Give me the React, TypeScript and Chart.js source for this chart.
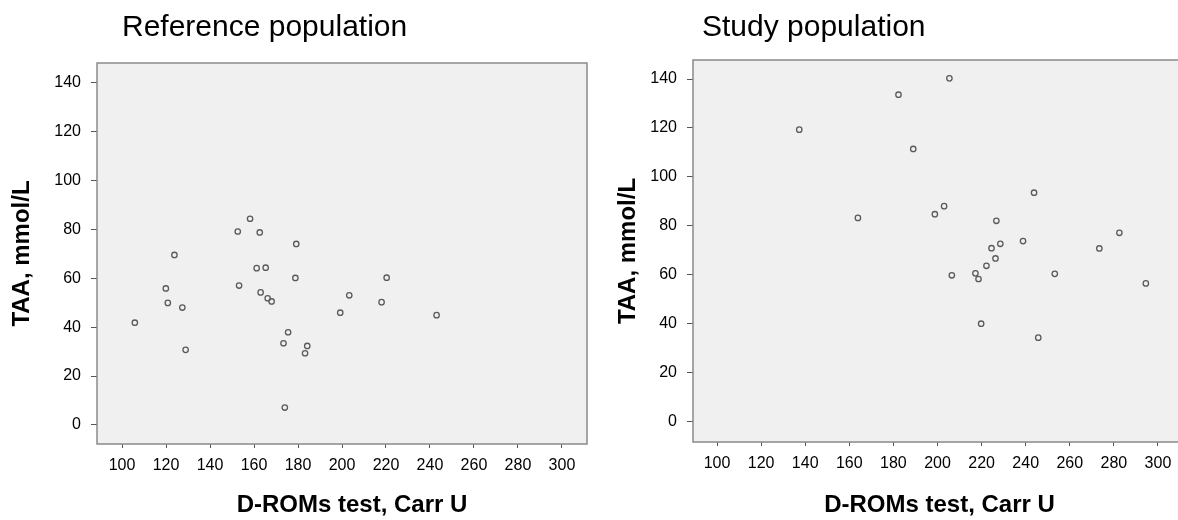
import React, { useEffect, useRef } from "react";
import { Chart, registerables } from "chart.js";

Chart.register(...registerables);

// ---- data ----
const xTickValues = [100, 120, 140, 160, 180, 200, 220, 240, 260, 280, 300];
const yTickValues = [0, 20, 40, 60, 80, 100, 120, 140];

const refDroms = [105.8, 119.9, 120.8, 123.8, 127.4, 128.9, 152.6, 153.2, 158.2, 161.2, 162.6, 163.0, 165.3, 166.2, 168.0, 173.4, 174.0, 175.5, 178.8, 179.2, 183.2, 184.2, 199.2, 203.3, 218.0, 220.3, 243.0];
const refTaa = [41.8, 55.8, 49.9, 69.5, 48.0, 30.7, 79.1, 57.0, 84.3, 64.1, 78.7, 54.2, 64.3, 51.8, 50.5, 33.4, 7.1, 37.9, 60.1, 74.0, 29.3, 32.3, 45.9, 53.0, 50.2, 60.2, 44.9];

const studyDroms = [137.3, 163.9, 182.3, 205.4, 189.0, 198.8, 203.0, 243.8, 226.7, 282.5, 273.4, 238.8, 228.5, 224.5, 226.3, 222.2, 206.5, 217.2, 218.6, 253.2, 294.5, 219.8, 245.7];
const studyTaa = [119.3, 83.2, 133.6, 140.3, 111.4, 84.7, 88.0, 93.5, 82.0, 77.1, 70.7, 73.7, 72.6, 70.8, 66.6, 63.6, 59.7, 60.5, 58.2, 60.3, 56.4, 39.9, 34.2];

const refTitle = "Reference population";
const studyTitle = "Study population";
const xTitle = "D-ROMs test, Carr U";
const yTitle = "TAA, mmol/L";

const FONT = "'Liberation Sans', Arial, sans-serif";

const panelPlugin = {
  id: "panel",
  beforeDraw(chart: any) {
    const { ctx, chartArea } = chart;
    const { left, top, right, bottom } = chartArea;
    ctx.save();
    ctx.fillStyle = "#f0f0f0";
    ctx.fillRect(left, top, right - left, bottom - top);
    ctx.restore();
  },
  beforeDatasetsDraw(chart: any) {
    const { ctx, chartArea } = chart;
    const { left, top, right, bottom } = chartArea;
    ctx.save();
    ctx.strokeStyle = "#8a8a8a";
    ctx.lineWidth = 1.5;
    ctx.strokeRect(left, top, right - left, bottom - top);
    ctx.restore();
  },
  afterDraw(chart: any, _args: any, opts: any) {
    const { ctx, chartArea } = chart;
    ctx.save();
    ctx.fillStyle = "#000";
    ctx.font = `30px ${FONT}`;
    ctx.textBaseline = "alphabetic";
    ctx.textAlign = "left";
    ctx.fillText(opts.text, opts.x, opts.y);
    // x-axis title
    ctx.font = `bold 24px ${FONT}`;
    ctx.textAlign = "center";
    ctx.textBaseline = "middle";
    ctx.fillText(opts.xTitle, (chartArea.left + chartArea.right) / 2 + opts.xTitleShift, 505.6);
    ctx.restore();
  },
};

type PanelCfg = {
  title: string;
  titleX: number;
  xs: number[];
  ys: number[];
  xMin: number;
  xMax: number;
  yMin: number;
  yMax: number;
  yAxisWidth: number;
  xAxisHeight: number;
  padTop: number;
  padRight: number;
  yTitlePad: number;
  xTitleShift: number;
};

function Panel({ cfg, left }: { cfg: PanelCfg; left: number }) {
  const ref = useRef<HTMLCanvasElement | null>(null);
  useEffect(() => {
    if (!ref.current) return;
    const chart = new Chart(ref.current, {
      type: "scatter",
      data: {
        datasets: [
          {
            data: cfg.xs.map((x, i) => ({ x, y: cfg.ys[i] })),
            showLine: false,
            pointRadius: 2.7,
            pointBorderWidth: 1.3,
            pointBorderColor: "#5a5a5a",
            pointBackgroundColor: "rgba(0,0,0,0)",
            pointStyle: "circle",
          },
        ],
      },
      options: {
        animation: false,
        responsive: false,
        events: [],
        layout: { padding: { top: cfg.padTop, right: cfg.padRight, left: 0, bottom: 0 } },
        plugins: {
          legend: { display: false },
          tooltip: { enabled: false },
          // @ts-ignore
          panel: { text: cfg.title, x: cfg.titleX, y: 36, xTitle, xTitleShift: cfg.xTitleShift },
        },
        scales: {
          x: {
            type: "linear",
            min: cfg.xMin,
            max: cfg.xMax,
            afterFit: (s: any) => {
              s.height = cfg.xAxisHeight;
            },
            afterBuildTicks: (s: any) => {
              s.ticks = xTickValues.map((v) => ({ value: v }));
            },
            grid: { drawOnChartArea: false, drawTicks: true, tickLength: 4, tickColor: "#555", tickWidth: 1 },
            border: { display: false },
            ticks: {
              color: "#000",
              font: { family: FONT, size: 16 },
              padding: 8,
              maxRotation: 0,
              autoSkip: false,
              callback: (v: any) => String(v),
            },
            title: { display: false },
          },
          y: {
            type: "linear",
            min: cfg.yMin,
            max: cfg.yMax,
            afterFit: (s: any) => {
              s.width = cfg.yAxisWidth;
            },
            afterBuildTicks: (s: any) => {
              s.ticks = yTickValues.map((v) => ({ value: v }));
            },
            grid: { drawOnChartArea: false, drawTicks: true, tickLength: 6, tickColor: "#555", tickWidth: 1 },
            border: { display: false },
            ticks: {
              color: "#000",
              font: { family: FONT, size: 16 },
              padding: 10,
              autoSkip: false,
              callback: (v: any) => String(v),
            },
            title: {
              display: true,
              text: yTitle,
              color: "#000",
              font: { family: FONT, size: 24, weight: "bold" },
              padding: { top: cfg.yTitlePad, bottom: 0 },
            },
          },
        },
      } as any,
      plugins: [panelPlugin as any],
    });
    return () => chart.destroy();
  }, []);
  return (
    <canvas
      ref={ref}
      width={600}
      height={520}
      style={{ position: "absolute", left, top: 0, width: 600, height: 520 }}
    />
  );
}

const leftCfg: PanelCfg = {
  title: refTitle,
  titleX: 122,
  xs: refDroms,
  ys: refTaa,
  xMin: 88.6,
  xMax: 311.4,
  yMin: -7.8,
  yMax: 148,
  yAxisWidth: 97,
  xAxisHeight: 76,
  padTop: 63,
  padRight: 13,
  yTitlePad: 8,
  xTitleShift: 10,
};

const rightCfg: PanelCfg = {
  title: studyTitle,
  titleX: 102,
  xs: studyDroms,
  ys: studyTaa,
  xMin: 89.1,
  xMax: 310.9,
  yMin: -8.5,
  yMax: 147.8,
  yAxisWidth: 93,
  xAxisHeight: 78,
  padTop: 60,
  padRight: 18,
  yTitlePad: 14,
  xTitleShift: 2,
};

export default function App() {
  return (
    <div
      style={{
        position: "absolute",
        left: 0,
        top: 0,
        width: 1178,
        height: 520,
        overflow: "hidden",
        background: "#fff",
      }}
    >
      <Panel cfg={leftCfg} left={0} />
      <Panel cfg={rightCfg} left={600} />
    </div>
  );
}
